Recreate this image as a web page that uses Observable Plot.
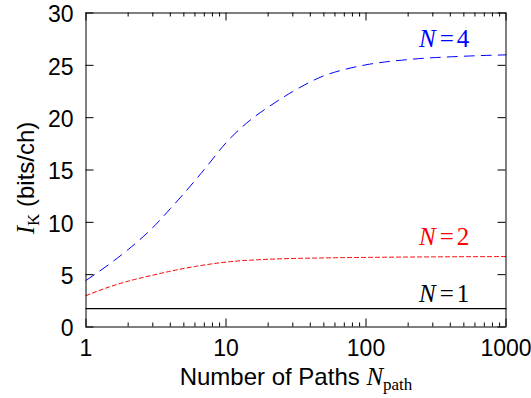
<!DOCTYPE html>
<html><head><meta charset="utf-8">
<script src="https://cdn.jsdelivr.net/npm/d3@7"></script>
<script src="https://cdn.jsdelivr.net/npm/@observablehq/plot@0.6"></script>
<style>body{margin:0;background:#fff}</style>
</head><body><div id="chart"></div>
<script>
// ---- data ----
const seriesNames = ["N=1", "N=2", "N=4"];
const nPath1 = [1, 1000];
const iK1 = [1.75, 1.75];
const nPath2 = [1, 1.5, 2, 3, 4, 6, 10, 20, 50, 100, 300, 1000];
const iK2 = [3.0, 3.87, 4.38, 4.95, 5.33, 5.78, 6.2, 6.47, 6.6, 6.65, 6.7, 6.73];
const nPath4 = [1, 1.5, 2, 3, 4, 5, 7, 10, 15, 20, 30, 50, 70, 100, 200, 500, 1000];
const iK4 = [4.45, 6.1, 7.4, 9.5, 11.3, 12.75, 15.05, 17.6, 19.8, 21.0, 22.5, 24.0, 24.6, 25.05, 25.55, 25.87, 26.0];
const xMajorTicks = [1, 10, 100, 1000];
const xMinorTicks = [2,3,4,5,6,7,8,9,20,30,40,50,60,70,80,90,200,300,400,500,600,700,800,900];
const yTicks = [0, 5, 10, 15, 20, 25, 30];
const xLabel = "Number of Paths N_path";
const yLabel = "I_K (bits/ch)";

// ---- build ----
const series = [
  {name: seriesNames[0], xs: nPath1, ys: iK1, color: "#000000", dash: null, width: 1.2, dy: -6.5},
  {name: seriesNames[1], xs: nPath2, ys: iK2, color: "#ff0000", dash: "4,3", width: 1, dy: -12},
  {name: seriesNames[2], xs: nPath4, ys: iK4, color: "#0000ff", dash: "10,7", width: 1, dy: -7.6}
].map(s => ({...s, rows: s.xs.map((x, i) => ({x, y: s.ys[i]}))}));

const W = 531, H = 398, mL = 85.5, mR = 25.5, mT = 12.5, mB = 71.5;
const innerW = W - mL - mR, innerH = H - mT - mB;
const labelAt = 362;

const marks = [
  Plot.axisX(xMajorTicks, {tickSize: 0, tickPadding: 13, tickFormat: d => String(d), label: null, fontSize: 23}),
  Plot.axisY(yTicks, {tickSize: 0, tickPadding: 12.5, tickFormat: d => String(d), label: null, fontSize: 23, dy: 2}),
  Plot.tickX(xMajorTicks, {x: d => d, insetTop: innerH - 8, stroke: "black"}),
  Plot.tickX(xMajorTicks, {x: d => d, insetBottom: innerH - 8, stroke: "black"}),
  Plot.tickX(xMinorTicks, {x: d => d, insetTop: innerH - 4, stroke: "black"}),
  Plot.tickX(xMinorTicks, {x: d => d, insetBottom: innerH - 4, stroke: "black"}),
  Plot.tickY(yTicks, {y: d => d, insetRight: innerW - 8, stroke: "black"}),
  Plot.tickY(yTicks, {y: d => d, insetLeft: innerW - 8, stroke: "black"})
];
for (const s of series) {
  marks.push(Plot.line(s.rows, {x: "x", y: "y", stroke: s.color, strokeWidth: s.width,
    strokeDasharray: s.dash, curve: "monotone-x"}));
  const last = s.rows[s.rows.length - 1];
  marks.push(Plot.text([s.name], {x: () => labelAt, y: () => last.y, text: d => d, dy: s.dy,
    fill: s.color, lineAnchor: "bottom", textAnchor: "middle", fontSize: 25}));
}
marks.push(Plot.frame({stroke: "black", strokeWidth: 1}));
marks.push(Plot.text([xLabel], {frameAnchor: "bottom", text: d => d, dy: 57.5, lineAnchor: "bottom",
  textAnchor: "middle", fontSize: 24}));
marks.push(Plot.text([yLabel], {frameAnchor: "left", text: d => d, rotate: -90, dx: -52, dy: 8,
  lineAnchor: "bottom", textAnchor: "middle", fontSize: 24}));

const chart = Plot.plot({
  width: W, height: H,
  marginLeft: mL, marginRight: mR, marginTop: mT, marginBottom: mB,
  style: {fontFamily: "'Liberation Sans', Arial, sans-serif", fontSize: "23px", background: "#fff", color: "#000", overflow: "visible"},
  x: {type: "log", domain: [1, 1000]},
  y: {domain: [0, 30]},
  marks
});
document.getElementById("chart").appendChild(chart);

// ---- rich text (math italics / subscripts) ----
const SVGNS = "http://www.w3.org/2000/svg";
const SERIF = "'Liberation Serif', 'DejaVu Serif', serif";
function rich(el, parts) {
  while (el.firstChild) el.removeChild(el.firstChild);
  for (const p of parts) {
    const ts = document.createElementNS(SVGNS, "tspan");
    ts.textContent = p.t;
    for (const [k, v] of Object.entries(p.a || {})) ts.setAttribute(k, v);
    el.appendChild(ts);
  }
}
chart.querySelectorAll("text").forEach(el => {
  const txt = el.textContent;
  if (seriesNames.includes(txt)) {
    const [v, n] = txt.split("=");
    rich(el, [
      {t: v, a: {"font-style": "italic", "font-family": SERIF}},
      {t: "=", a: {"font-family": SERIF, dx: 4}},
      {t: n, a: {"font-family": SERIF, dx: 3}}
    ]);
  } else if (txt === xLabel) {
    const [main, sub] = txt.split("_");
    const words = main.split(" ");
    const sym = words.pop();
    rich(el, [
      {t: words.join(" ") + " "},
      {t: sym, a: {"font-style": "italic", "font-family": SERIF, "font-size": 25}},
      {t: sub, a: {"font-family": SERIF, "font-size": 17, dy: 5}}
    ]);
  } else if (txt === yLabel) {
    const [sym, rest] = txt.split("_");
    const sub = rest.split(" ")[0];
    const tail = rest.slice(sub.length);
    rich(el, [
      {t: sym, a: {"font-style": "italic", "font-family": SERIF, "font-size": 25}},
      {t: sub, a: {"font-family": SERIF, "font-size": 17, dy: 5}},
      {t: tail, a: {dy: -5}}
    ]);
  }
});
</script>
</body></html>
